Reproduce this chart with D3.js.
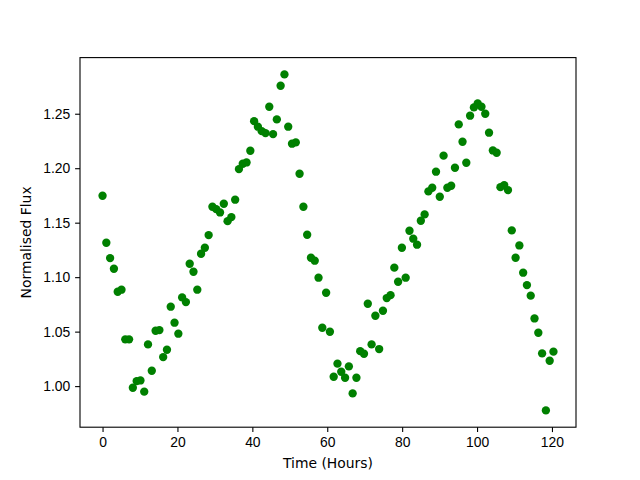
<!DOCTYPE html>
<html>
<head>
<meta charset="utf-8">
<script src="https://cdn.jsdelivr.net/npm/d3@7"></script>
<style>
  body { margin: 0; background: #fff; }
  svg { display: block; font-family: "DejaVu Sans", sans-serif; }
  .axis text { font-size: 13.9px; fill: #000; }
  .axis path, .axis line { stroke: #000; stroke-width: 1.1; }
  .label { font-size: 13.9px; fill: #000; }
</style>
</head>
<body>
<svg id="chart"></svg>
<script>
// time of each sample (hours)
var hours = [
    0.00, 1.01, 2.02, 3.04, 4.05, 5.06, 6.07, 7.08, 8.09, 9.11,
    10.12, 11.13, 12.14, 13.15, 14.17, 15.18, 16.19, 17.20, 18.21, 19.22,
    20.24, 21.25, 22.26, 23.27, 24.28, 25.30, 26.31, 27.32, 28.33, 29.34,
    30.35, 31.37, 32.38, 33.39, 34.40, 35.41, 36.42, 37.44, 38.45, 39.46,
    40.47, 41.48, 42.50, 43.51, 44.52, 45.53, 46.54, 47.55, 48.57, 49.58,
    50.59, 51.60, 52.61, 53.63, 54.64, 55.65, 56.66, 57.67, 58.68, 59.70,
    60.71, 61.72, 62.73, 63.74, 64.76, 65.77, 66.78, 67.79, 68.80, 69.81,
    70.83, 71.84, 72.85, 73.86, 74.87, 75.89, 76.90, 77.91, 78.92, 79.93,
    80.94, 81.96, 82.97, 83.98, 84.99, 86.00, 87.01, 88.03, 89.04, 90.05,
    91.06, 92.07, 93.09, 94.10, 95.11, 96.12, 97.13, 98.14, 99.16, 100.17,
    101.18, 102.19, 103.20, 104.22, 105.23, 106.24, 107.25, 108.26, 109.27, 110.29,
    111.30, 112.31, 113.32, 114.33, 115.34, 116.36, 117.37, 118.38, 119.39, 120.40
];

// normalised flux
var flux = [
    1.1747, 1.1316, 1.1175, 1.1077, 1.0866, 1.0885, 1.0429, 1.0429, 0.9985, 1.0046,
    1.0052, 0.9949, 1.0383, 1.0141, 1.0508, 1.0514, 1.0266, 1.0334, 1.0729, 1.0582,
    1.0481, 1.0814, 1.0771, 1.1123, 1.1050, 1.0885, 1.1215, 1.1270, 1.1386, 1.1646,
    1.1624, 1.1594, 1.1674, 1.1514, 1.1551, 1.1711, 1.1992, 1.2041, 1.2053, 1.2160,
    1.2432, 1.2381, 1.2340, 1.2322, 1.2564, 1.2313, 1.2448, 1.2757, 1.2861, 1.2381,
    1.2225, 1.2237, 1.1949, 1.1646, 1.1389, 1.1178, 1.1151, 1.0995, 1.0536, 1.0857,
    1.0499, 1.0086, 1.0206, 1.0132, 1.0077, 1.0181, 0.9933, 1.0077, 1.0321, 1.0297,
    1.0756, 1.0383, 1.0646, 1.0340, 1.0692, 1.0808, 1.0835, 1.1087, 1.0958, 1.1270,
    1.0995, 1.1426, 1.1353, 1.1298, 1.1518, 1.1576, 1.1787, 1.1821, 1.1968, 1.1738,
    1.2115, 1.1821, 1.1839, 1.2004, 1.2402, 1.2243, 1.2050, 1.2482, 1.2558, 1.2595,
    1.2564, 1.2500, 1.2326, 1.2163, 1.2142, 1.1826, 1.1845, 1.1799, 1.1429, 1.1178,
    1.1291, 1.1041, 1.0927, 1.0830, 1.0621, 1.0490, 1.0300, 0.9777, 1.0233, 1.0316
];

var xTicks = [0, 20, 40, 60, 80, 100, 120];
var yTicks = [1.00, 1.05, 1.10, 1.15, 1.20, 1.25];

var width = 640, height = 480;
var margin = { left: 80, right: 64, top: 57.6, bottom: 52.8 };
var plotW = width - margin.left - margin.right;
var plotH = height - margin.top - margin.bottom;

var data = hours.map(function(t, i) { return { t: t, v: flux[i] }; });

// matplotlib style 5% padding
function padded(ext) {
    var d = (ext[1] - ext[0]) * 0.05;
    return [ext[0] - d, ext[1] + d];
}

var x = d3.scaleLinear()
    .domain(padded(d3.extent(hours)))
    .range([0, plotW]);
var y = d3.scaleLinear()
    .domain(padded(d3.extent(flux)))
    .range([plotH, 0]);

var svg = d3.select('#chart')
    .attr('width', width)
    .attr('height', height);

var g = svg.append('g')
    .attr('transform', 'translate(' + margin.left + ',' + margin.top + ')');

g.selectAll('circle.pt')
    .data(data)
    .enter().append('circle')
    .attr('class', 'pt')
    .attr('cx', function(d) { return x(d.t); })
    .attr('cy', function(d) { return y(d.v); })
    .attr('r', 4.17)
    .attr('fill', '#008000');

var xAxis = d3.axisBottom(x).tickValues(xTicks).tickSize(4.9).tickPadding(4.9)
    .tickFormat(d3.format('d'));
var yAxis = d3.axisLeft(y).tickValues(yTicks).tickSize(4.9).tickPadding(4.9)
    .tickFormat(d3.format('.2f'));

g.append('g')
    .attr('class', 'axis axis--x')
    .attr('transform', 'translate(0,' + plotH + ')')
    .call(xAxis)
    .call(function(s) { s.select('.domain').remove(); });
g.append('g')
    .attr('class', 'axis axis--y')
    .call(yAxis)
    .call(function(s) { s.select('.domain').remove(); });

// frame
g.append('rect')
    .attr('width', plotW)
    .attr('height', plotH)
    .attr('fill', 'none')
    .attr('stroke', '#000')
    .attr('stroke-width', 1.1);

svg.append('text')
    .attr('class', 'label')
    .attr('x', margin.left + plotW / 2)
    .attr('y', 468)
    .attr('text-anchor', 'middle')
    .text('Time (Hours)');

svg.append('text')
    .attr('class', 'label')
    .attr('transform', 'translate(31,' + (margin.top + plotH / 2) + ') rotate(-90)')
    .attr('text-anchor', 'middle')
    .text('Normalised Flux');
</script>
</body>
</html>
